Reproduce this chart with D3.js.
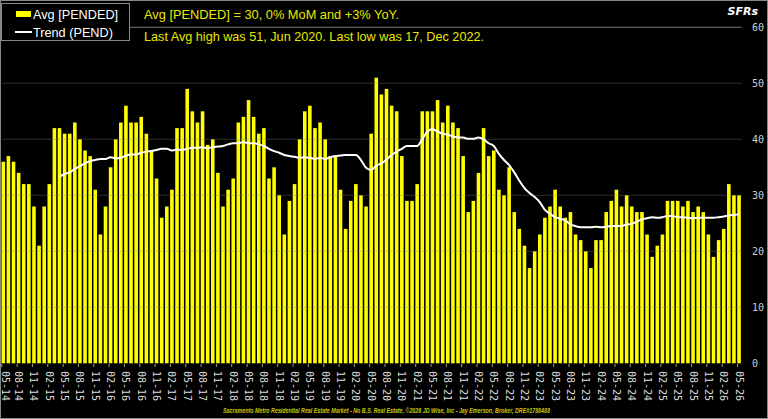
<!DOCTYPE html>
<html>
<head>
<meta charset="utf-8">
<script src="https://cdn.jsdelivr.net/npm/d3@7"></script>
<style>
  html, body { margin: 0; padding: 0; background: #000; }
  svg { display: block; }
</style>
</head>
<body>
<div id="chart"></div>
<script>
// monthly pended SFRs, 05-2014 .. 05-2026
var startYear = 2014, startMonth = 5;
var pended = [
  36, 37, 36, 34, 32, 32, 28, 21, 28, 32, 42, 42,
  41, 41, 43, 40, 38, 37, 31, 23, 28, 35, 40, 43,
  46, 43, 43, 44, 41, 38, 33, 26, 28, 31, 42, 42,
  49, 45, 43, 45, 39, 40, 34, 28, 31, 33, 43, 44,
  47, 44, 41, 42, 33, 35, 30, 23, 29, 32, 40, 45,
  46, 42, 43, 40, 37, 37, 31, 24, 29, 32, 30, 28,
  41, 51, 48, 49, 46, 45, 37, 29, 29, 32, 45, 45,
  45, 47, 43, 46, 43, 42, 37, 27, 29, 34, 42, 37,
  38, 31, 30, 35, 27, 24, 21, 17, 20, 23, 26, 28,
  31, 28, 26, 27, 23, 22, 20, 17, 22, 22, 27, 29,
  31, 28, 30, 28, 27, 27, 23, 19, 21, 23, 29, 29,
  29, 28, 29, 27, 28, 27, 23, 19, 22, 24, 32, 30,
  30
];
// trend line, starts at 04-2015 (index 11)
var trendStart = 11;
var trend = [
  33.3, 33.8, 34.1, 34.7, 35.2, 35.7, 36.1, 36.3, 36.5, 36.5, 36.8, 36.6, 36.7,
  37.1, 37.3, 37.3, 37.6, 37.8, 37.9, 38.1, 38.3, 38.3, 38.0, 38.2, 38.1,
  38.3, 38.5, 38.5, 38.6, 38.4, 38.6, 38.7, 38.8, 39.1, 39.3, 39.3, 39.5,
  39.3, 39.3, 39.1, 38.8, 38.3, 37.9, 37.6, 37.2, 37.0, 36.9, 36.7, 36.8,
  36.7, 36.5, 36.7, 36.5, 36.8, 37.0, 37.1, 37.2, 37.2, 37.2, 36.3, 34.9,
  34.5, 35.3, 35.7, 36.4, 37.2, 37.8, 38.3, 38.8, 38.8, 38.8, 40.0, 41.4,
  41.8, 41.4, 41.0, 40.8, 40.5, 40.3, 40.3, 40.1, 40.1, 40.3, 40.0, 39.3,
  38.8, 37.4, 36.3, 35.4, 34.1, 32.6, 31.3, 30.4, 29.7, 28.8, 27.4, 26.7,
  26.1, 25.8, 25.5, 24.8, 24.5, 24.3, 24.3, 24.3, 24.4, 24.3, 24.4, 24.5,
  24.5, 24.5, 24.8, 24.9, 25.3, 25.7, 25.9, 26.1, 26.0, 26.1, 26.3, 26.3,
  26.1, 26.1, 26.0, 25.9, 26.0, 26.0, 26.0, 26.0, 26.1, 26.2, 26.4, 26.5,
  26.6
];
var yTicks = [0, 10, 20, 30, 40, 50, 60];
var headline1 = "Avg [PENDED] = 30, 0% MoM and +3% YoY.";
var headline2 = "Last Avg high was 51, Jun 2020. Last low was 17, Dec 2022.";
var footer = "Sacramento Metro Residential Real Estate Market - No B.S. Real Estate, \u00a92026 JD Wise, Inc - Jay Emerson, Broker, DRE#1788488";

var width = 768, height = 419;
var yellow = "#ffff00";

function monthLabel(i) {
  var m = (startMonth - 1 + i) % 12 + 1;
  var y = startYear + Math.floor((startMonth - 1 + i) / 12);
  return (m < 10 ? "0" : "") + m + "-" + String(y).slice(2);
}

var svg = d3.select("#chart").append("svg")
  .attr("width", width)
  .attr("height", height);

svg.append("rect")
  .attr("width", width).attr("height", height)
  .attr("fill", "#000");

var xScale = d3.scaleBand()
  .domain(d3.range(pended.length))
  .range([0.75, 741.6])
  .paddingInner(0.3)
  .paddingOuter(0.15);

var yScale = d3.scaleLinear()
  .domain([0, 60])
  .range([363.3, 27.3]);

function cx(i) { return xScale(i) + xScale.bandwidth() / 2; }

// bars
svg.append("g").selectAll("rect")
  .data(pended)
  .enter().append("rect")
  .attr("x", function(d, i) { return xScale(i); })
  .attr("width", xScale.bandwidth())
  .attr("y", function(d) { return yScale(d); })
  .attr("height", function(d) { return yScale(0) - yScale(d); })
  .attr("fill", yellow);

// grid lines (drawn over the bars, faint)
svg.append("g").selectAll("line")
  .data(yTicks.filter(function(d) { return d > 0 && d < 60; }))
  .enter().append("line")
  .attr("x1", 2).attr("x2", 741.6)
  .attr("y1", function(d) { return yScale(d); })
  .attr("y2", function(d) { return yScale(d); })
  .attr("stroke", "#808080")
  .attr("stroke-opacity", 0.35)
  .attr("stroke-width", 1);

// top line under the header
svg.append("line")
  .attr("x1", 130).attr("x2", 741.6)
  .attr("y1", yScale(60)).attr("y2", yScale(60))
  .attr("stroke", "#777").attr("stroke-width", 1);

// trend
var line = d3.line()
  .x(function(d, i) { return cx(i + trendStart); })
  .y(function(d) { return yScale(d); })
  .curve(d3.curveMonotoneX);

svg.append("path")
  .datum(trend)
  .attr("d", line)
  .attr("fill", "none")
  .attr("stroke", "#fff")
  .attr("stroke-width", 2);

// y axis labels on the right
svg.append("g").selectAll("text")
  .data(yTicks)
  .enter().append("text")
  .attr("x", 752)
  .attr("y", function(d) { return yScale(d) + 1; })
  .attr("dominant-baseline", "middle")
  .attr("font-family", "DejaVu Sans Mono, monospace")
  .attr("font-size", 10)
  .attr("fill", "#ccc")
  .text(function(d) { return d; });

// x ticks and rotated labels every 3 months
var labelIdx = d3.range(0, pended.length, 3);
var xg = svg.append("g");
xg.selectAll("line")
  .data(labelIdx)
  .enter().append("line")
  .attr("x1", function(d) { return cx(d) - 1.5; })
  .attr("x2", function(d) { return cx(d) - 1.5; })
  .attr("y1", 364).attr("y2", 367)
  .attr("stroke", "#999");
xg.selectAll("text")
  .data(labelIdx)
  .enter().append("text")
  .attr("transform", function(d) { return "translate(" + Math.max(cx(d), 5) + ",371) rotate(90)"; })
  .attr("dominant-baseline", "central")
  .attr("font-family", "DejaVu Sans Mono, monospace")
  .attr("font-size", 10)
  .attr("fill", "#ddd")
  .text(function(d) { return monthLabel(d); });

// headline text
svg.append("text")
  .attr("x", 144).attr("y", 19)
  .attr("font-family", "Liberation Sans, Arial, sans-serif")
  .attr("font-size", 13)
  .attr("textLength", 255)
  .attr("lengthAdjust", "spacingAndGlyphs")
  .attr("fill", "#e8e800")
  .text(headline1);
svg.append("text")
  .attr("x", 144).attr("y", 41)
  .attr("font-family", "Liberation Sans, Arial, sans-serif")
  .attr("font-size", 13)
  .attr("textLength", 340)
  .attr("lengthAdjust", "spacingAndGlyphs")
  .attr("fill", "#e8e800")
  .text(headline2);

svg.append("text")
  .attr("x", 758).attr("y", 15)
  .attr("text-anchor", "end")
  .attr("font-family", "DejaVu Sans, sans-serif")
  .attr("font-size", 11)
  .attr("font-weight", "bold")
  .attr("font-style", "italic")
  .attr("fill", "#fff")
  .text("SFRs");

// legend
var legend = svg.append("g");
legend.append("rect")
  .attr("x", 1.5).attr("y", 3.5)
  .attr("width", 128).attr("height", 37)
  .attr("fill", "#000")
  .attr("stroke", "#888");
legend.append("rect")
  .attr("x", 16).attr("y", 11)
  .attr("width", 15).attr("height", 6)
  .attr("fill", yellow);
legend.append("text")
  .attr("x", 33).attr("y", 18.5)
  .attr("font-family", "Liberation Sans, Arial, sans-serif")
  .attr("font-size", 12.7)
  .attr("fill", "#fff")
  .text("Avg [PENDED]");
legend.append("line")
  .attr("x1", 15).attr("x2", 32)
  .attr("y1", 32).attr("y2", 32)
  .attr("stroke", "#fff").attr("stroke-width", 2);
legend.append("text")
  .attr("x", 33).attr("y", 36.5)
  .attr("font-family", "Liberation Sans, Arial, sans-serif")
  .attr("font-size", 12.7)
  .attr("fill", "#fff")
  .text("Trend (PEND)");

// footer
svg.append("text")
  .attr("x", 223).attr("y", 413)
  .attr("textLength", 327)
  .attr("lengthAdjust", "spacingAndGlyphs")
  .attr("font-family", "Liberation Sans, Arial, sans-serif")
  .attr("font-size", 6.5)
  .attr("font-style", "italic")
  .attr("font-weight", "bold")
  .attr("fill", "#c8c800")
  .text(footer);

// outer frame
svg.append("rect")
  .attr("x", 0.5).attr("y", 0.5)
  .attr("width", width - 1).attr("height", height - 1)
  .attr("fill", "none")
  .attr("stroke", "#888");
</script>
</body>
</html>
